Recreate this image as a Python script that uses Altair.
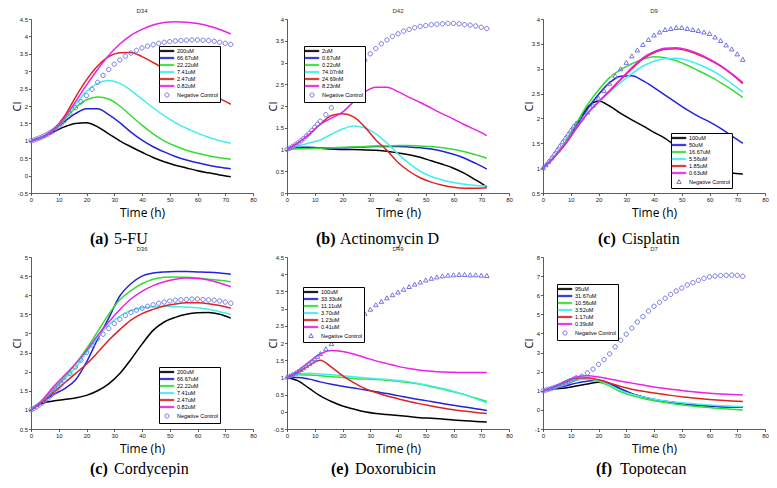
import altair as alt
import pandas as pd

# ---------------- data ----------------
TIME = [0, 4, 8, 12, 16, 20, 24, 28, 32, 36, 40, 44, 48, 52, 56, 60, 64, 68, 72]
NC_TIME = [0, 1, 2, 3, 4, 5, 6, 7, 8, 9, 10, 11, 12,
           14, 16, 18, 20, 22, 24, 26, 28, 30, 32, 34, 36, 38, 40, 42, 44,
           46, 48, 50, 52, 54, 56, 58, 60, 62, 64, 66, 68, 70, 72]
X_TICKS = [0, 10, 20, 30, 40, 50, 60, 70, 80]
LINE_COLORS = ["#000000", "#2222dd", "#33dd33", "#44eeee", "#e02222", "#e822e8"]
NC_COLOR = "#7272ea"

# (a) 5-FU
A_PLATE, A_TAG, A_DRUG = "D34", "(a)", "5-FU"
A_DOSES = ["200uM", "66.67uM", "22.22uM", "7.41uM", "2.47uM", "0.82uM"]
A_CI = [
    [1.0, 1.1, 1.25, 1.4, 1.5, 1.52, 1.4, 1.2, 1.0, 0.83, 0.67, 0.52, 0.4, 0.3, 0.22, 0.14, 0.08, 0.02, -0.03],
    [1.0, 1.1, 1.3, 1.55, 1.78, 1.92, 1.92, 1.75, 1.52, 1.25, 1.02, 0.83, 0.68, 0.55, 0.45, 0.37, 0.3, 0.24, 0.2],
    [1.0, 1.1, 1.3, 1.6, 1.95, 2.18, 2.26, 2.2, 2.0, 1.72, 1.45, 1.2, 1.0, 0.85, 0.73, 0.64, 0.57, 0.51, 0.47],
    [1.0, 1.1, 1.3, 1.65, 2.05, 2.42, 2.65, 2.73, 2.65, 2.45, 2.2, 1.95, 1.72, 1.52, 1.36, 1.22, 1.1, 1.0, 0.93],
    [1.0, 1.1, 1.32, 1.7, 2.25, 2.75, 3.15, 3.42, 3.53, 3.54, 3.42, 3.25, 3.07, 2.9, 2.75, 2.55, 2.38, 2.21, 2.05],
    [1.0, 1.1, 1.3, 1.65, 2.12, 2.6, 3.05, 3.45, 3.78, 4.03, 4.2, 4.33, 4.4, 4.42, 4.41, 4.37, 4.3, 4.2, 4.07],
]
A_NC = [1.0, 1.02, 1.05, 1.08, 1.11, 1.15, 1.19, 1.24, 1.29, 1.35, 1.42, 1.5, 1.58,
        1.78, 1.95, 2.12, 2.3, 2.48, 2.68, 2.88, 3.05, 3.2, 3.32, 3.43, 3.52, 3.6, 3.67, 3.72, 3.76,
        3.8, 3.83, 3.85, 3.87, 3.88, 3.89, 3.9, 3.9, 3.89, 3.88, 3.86, 3.83, 3.8, 3.77]
A_YTICKS = [-0.5, 0, 0.5, 1, 1.5, 2, 2.5, 3, 3.5, 4, 4.5]

# (b) Actinomycin D
B_PLATE, B_TAG, B_DRUG = "D42", "(b)", "Actinomycin D"
B_DOSES = ["2uM", "0.67uM", "0.22uM", "74.07nM", "24.69nM", "8.23nM"]
B_CI = [
    [1.0, 1.04, 1.04, 1.03, 1.01, 1.0, 1.0, 0.99, 0.98, 0.96, 0.92, 0.88, 0.82, 0.74, 0.66, 0.57, 0.45, 0.3, 0.14],
    [1.0, 1.05, 1.05, 1.04, 1.04, 1.04, 1.05, 1.06, 1.07, 1.07, 1.07, 1.06, 1.04, 1.01, 0.96, 0.89, 0.8, 0.68, 0.55],
    [1.0, 1.02, 1.02, 1.03, 1.04, 1.05, 1.06, 1.07, 1.08, 1.08, 1.09, 1.09, 1.08, 1.07, 1.04, 1.0, 0.95, 0.88, 0.8],
    [1.0, 1.08, 1.15, 1.22, 1.35, 1.47, 1.54, 1.5, 1.36, 1.15, 0.9, 0.68, 0.5, 0.38, 0.3, 0.24, 0.2, 0.17, 0.16],
    [1.0, 1.15, 1.35, 1.58, 1.78, 1.82, 1.75, 1.52, 1.22, 0.98, 0.7, 0.5, 0.35, 0.25, 0.18, 0.13, 0.11, 0.11, 0.12],
    [1.0, 1.15, 1.35, 1.58, 1.72, 1.86, 2.1, 2.32, 2.43, 2.43, 2.33, 2.2, 2.08, 1.95, 1.82, 1.7, 1.57, 1.45, 1.32],
]
B_NC = [1.0, 1.03, 1.07, 1.11, 1.15, 1.2, 1.25, 1.31, 1.37, 1.44, 1.51, 1.58, 1.65,
        1.8, 1.96, 2.13, 2.3, 2.5, 2.7, 2.88, 3.05, 3.2, 3.32, 3.43, 3.52, 3.6, 3.66, 3.72, 3.76,
        3.8, 3.83, 3.85, 3.87, 3.88, 3.89, 3.9, 3.9, 3.89, 3.87, 3.86, 3.84, 3.81, 3.78]
B_YTICKS = [0, 0.5, 1, 1.5, 2, 2.5, 3, 3.5, 4]

# (c) Cisplatin
C_PLATE, C_TAG, C_DRUG = "D9", "(c)", "Cisplatin"
C_DOSES = ["100uM", "50uM", "16.67uM", "5.56uM", "1.85uM", "0.63uM"]
C_CI = [
    [1.0, 1.22, 1.5, 1.88, 2.22, 2.35, 2.25, 2.1, 1.97, 1.85, 1.72, 1.6, 1.44, 1.29, 1.15, 1.03, 0.95, 0.9, 0.88],
    [1.0, 1.22, 1.5, 1.85, 2.19, 2.48, 2.72, 2.85, 2.86, 2.76, 2.62, 2.47, 2.32, 2.17, 2.04, 1.93, 1.8, 1.65, 1.5],
    [1.0, 1.23, 1.52, 1.9, 2.27, 2.57, 2.82, 2.98, 3.1, 3.19, 3.24, 3.22, 3.16, 3.07, 2.96, 2.85, 2.72, 2.58, 2.42],
    [1.0, 1.22, 1.48, 1.8, 2.1, 2.33, 2.53, 2.72, 2.9, 3.05, 3.15, 3.2, 3.21, 3.17, 3.09, 2.99, 2.86, 2.7, 2.53],
    [1.0, 1.22, 1.48, 1.8, 2.1, 2.33, 2.55, 2.78, 3.0, 3.2, 3.32, 3.39, 3.4, 3.36, 3.28, 3.18, 3.05, 2.89, 2.7],
    [1.0, 1.22, 1.48, 1.8, 2.1, 2.33, 2.56, 2.79, 3.02, 3.22, 3.34, 3.41, 3.42, 3.38, 3.3, 3.19, 3.06, 2.9, 2.72],
]
C_NC = [1.0, 1.06, 1.13, 1.2, 1.28, 1.36, 1.44, 1.52, 1.6, 1.68, 1.76, 1.84, 1.9,
        2.0, 2.12, 2.26, 2.4, 2.55, 2.7, 2.85, 2.99, 3.12, 3.25, 3.37, 3.48, 3.58, 3.67, 3.73, 3.78,
        3.8, 3.82, 3.82, 3.8, 3.78, 3.76, 3.73, 3.7, 3.63, 3.56, 3.47, 3.39, 3.29, 3.18]
C_YTICKS = [0.5, 1, 1.5, 2, 2.5, 3, 3.5, 4]

# (c) Cordycepin
D_PLATE, D_TAG, D_DRUG = "D36", "(c)", "Cordycepin"
D_DOSES = ["200uM", "66.67uM", "22.22uM", "7.41uM", "2.47uM", "0.82uM"]
D_CI = [
    [1.0, 1.17, 1.23, 1.27, 1.31, 1.38, 1.5, 1.68, 1.95, 2.32, 2.72, 3.08, 3.3, 3.42, 3.5, 3.54, 3.55, 3.5, 3.4],
    [1.0, 1.2, 1.4, 1.55, 1.78, 2.25, 2.85, 3.4, 3.98, 4.3, 4.5, 4.58, 4.61, 4.62, 4.62, 4.61, 4.6, 4.58, 4.55],
    [1.0, 1.25, 1.55, 1.85, 2.2, 2.6, 3.05, 3.5, 3.88, 4.12, 4.3, 4.42, 4.47, 4.48, 4.47, 4.45, 4.42, 4.39, 4.35],
    [1.0, 1.22, 1.5, 1.8, 2.1, 2.5, 2.9, 3.22, 3.45, 3.6, 3.67, 3.7, 3.71, 3.7, 3.69, 3.67, 3.63, 3.57, 3.5],
    [1.0, 1.2, 1.45, 1.7, 1.95, 2.2, 2.5, 2.82, 3.1, 3.35, 3.52, 3.63, 3.72, 3.77, 3.8, 3.8, 3.78, 3.73, 3.66],
    [1.0, 1.25, 1.6, 1.9, 2.2, 2.55, 2.95, 3.3, 3.62, 3.9, 4.1, 4.25, 4.35, 4.42, 4.45, 4.44, 4.4, 4.32, 4.22],
]
D_NC = [1.0, 1.04, 1.08, 1.13, 1.18, 1.24, 1.3, 1.37, 1.44, 1.52, 1.6, 1.68, 1.76,
        1.95, 2.12, 2.3, 2.5, 2.7, 2.86, 2.98, 3.13, 3.26, 3.37, 3.47, 3.55, 3.61, 3.66, 3.71, 3.75,
        3.79, 3.82, 3.85, 3.87, 3.88, 3.89, 3.9, 3.9, 3.89, 3.88, 3.87, 3.85, 3.82, 3.79]
D_YTICKS = [0.5, 1, 1.5, 2, 2.5, 3, 3.5, 4, 4.5, 5]

# (e) Doxorubicin
E_PLATE, E_TAG, E_DRUG = "D49", "(e)", "Doxorubicin"
E_DOSES = ["100uM", "33.33uM", "11.11uM", "3.70uM", "1.23uM", "0.41uM"]
E_CI = [
    [1.0, 0.9, 0.68, 0.46, 0.3, 0.17, 0.08, 0.0, -0.05, -0.08, -0.11, -0.14, -0.17, -0.19, -0.21, -0.24, -0.26, -0.28, -0.3],
    [1.0, 1.0, 0.95, 0.87, 0.8, 0.74, 0.69, 0.64, 0.58, 0.53, 0.47, 0.41, 0.35, 0.3, 0.24, 0.19, 0.14, 0.09, 0.04],
    [1.0, 1.08, 1.07, 1.05, 1.02, 1.0, 0.97, 0.95, 0.94, 0.92, 0.89, 0.85, 0.8, 0.73, 0.66, 0.58, 0.5, 0.4, 0.3],
    [1.0, 1.1, 1.12, 1.1, 1.08, 1.05, 1.02, 0.99, 0.96, 0.94, 0.91, 0.87, 0.81, 0.75, 0.68, 0.6, 0.5, 0.38, 0.26],
    [1.0, 1.15, 1.35, 1.5, 1.3, 1.05, 0.85, 0.68, 0.56, 0.46, 0.38, 0.3, 0.23, 0.17, 0.11, 0.06, 0.02, -0.02, -0.05],
    [1.0, 1.2, 1.45, 1.68, 1.78, 1.75, 1.68, 1.58, 1.48, 1.4, 1.32, 1.26, 1.21, 1.18, 1.16, 1.15, 1.14, 1.14, 1.14],
]
E_NC = [1.0, 1.04, 1.08, 1.12, 1.17, 1.22, 1.27, 1.33, 1.39, 1.46, 1.53, 1.6, 1.68,
        1.82, 1.97, 2.14, 2.3, 2.45, 2.6, 2.73, 2.85, 2.97, 3.1, 3.2, 3.3, 3.39, 3.47, 3.55, 3.63,
        3.7, 3.76, 3.82, 3.87, 3.91, 3.94, 3.96, 3.97, 3.98, 3.98, 3.97, 3.97, 3.96, 3.95]
E_YTICKS = [-0.5, 0, 0.5, 1, 1.5, 2, 2.5, 3, 3.5, 4, 4.5]

# (f) Topotecan
F_PLATE, F_TAG, F_DRUG = "D7", "(f)", "Topotecan"
F_DOSES = ["95uM", "31.67uM", "10.56uM", "3.52uM", "1.17uM", "0.39uM"]
F_CI = [
    [1.0, 1.1, 1.15, 1.25, 1.35, 1.45, 1.35, 1.1, 0.85, 0.68, 0.55, 0.45, 0.37, 0.3, 0.25, 0.2, 0.17, 0.15, 0.14],
    [1.0, 1.15, 1.25, 1.4, 1.5, 1.55, 1.4, 1.1, 0.85, 0.68, 0.55, 0.45, 0.37, 0.3, 0.25, 0.21, 0.18, 0.16, 0.15],
    [1.0, 1.15, 1.35, 1.55, 1.62, 1.5, 1.25, 0.95, 0.75, 0.6, 0.48, 0.38, 0.3, 0.23, 0.17, 0.12, 0.07, 0.03, 0.0],
    [1.0, 1.15, 1.35, 1.58, 1.62, 1.55, 1.3, 1.02, 0.82, 0.68, 0.56, 0.47, 0.4, 0.35, 0.3, 0.26, 0.22, 0.19, 0.17],
    [1.0, 1.2, 1.45, 1.65, 1.68, 1.58, 1.4, 1.22, 1.08, 0.97, 0.88, 0.8, 0.72, 0.66, 0.6, 0.55, 0.51, 0.47, 0.44],
    [1.0, 1.2, 1.5, 1.72, 1.78, 1.72, 1.62, 1.5, 1.4, 1.3, 1.2, 1.12, 1.05, 0.98, 0.92, 0.87, 0.83, 0.8, 0.78],
]
F_NC = [1.0, 1.04, 1.08, 1.12, 1.17, 1.22, 1.27, 1.33, 1.39, 1.46, 1.53, 1.6, 1.68,
        1.76, 1.93, 2.13, 2.38, 2.63, 2.93, 3.3, 3.64, 3.96, 4.28, 4.6, 4.88, 5.17, 5.42, 5.63, 5.84,
        6.04, 6.22, 6.37, 6.54, 6.66, 6.78, 6.88, 6.96, 7.0, 7.03, 7.04, 7.05, 7.04, 6.99]
F_YTICKS = [-1, 0, 1, 2, 3, 4, 5, 6, 7, 8]

NC_LABELS = ["Negative Control", "Negative Control", "Negative Control",
             "Negative Control", "Negative Control", "Negative Control"]
NC_MARKERS = ["circle", "circle", "triangle", "circle", "triangle", "circle"]

# ---------------- layout / style ----------------
W = 222
HEIGHTS = [174, 174, 174, 172, 172, 172]
CAPTION_DY = [46, 46, 46, 40, 40, 40]
LEGEND_POS = [(128, 27), (17, 27), (128, 114), (128, 110), (16, 30), (14, 27)]
CAPTION_X = [59, 29, 55, 59, 44, 53]

LINE_PATH = "M-2.8,-0.25L2.8,-0.25L2.8,0.25L-2.8,0.25Z"
CIRCLE_PATH = "M0.85,0A0.85,0.85,0,1,1,-0.85,0A0.85,0.85,0,1,1,0.85,0Z"
TRIANGLE_PATH = "M0,-0.95L0.9,0.62L-0.9,0.62Z"

PANELS = [
    (A_PLATE, A_TAG, A_DRUG, A_DOSES, A_CI, A_NC, A_YTICKS),
    (B_PLATE, B_TAG, B_DRUG, B_DOSES, B_CI, B_NC, B_YTICKS),
    (C_PLATE, C_TAG, C_DRUG, C_DOSES, C_CI, C_NC, C_YTICKS),
    (D_PLATE, D_TAG, D_DRUG, D_DOSES, D_CI, D_NC, D_YTICKS),
    (E_PLATE, E_TAG, E_DRUG, E_DOSES, E_CI, E_NC, E_YTICKS),
    (F_PLATE, F_TAG, F_DRUG, F_DOSES, F_CI, F_NC, F_YTICKS),
]


def make_panel(i):
    plate, tag, drug, doses, ci, nc, yticks = PANELS[i]
    h = HEIGHTS[i]
    nc_label = NC_LABELS[i]
    series = doses + [nc_label]

    rows = []
    for dose, vals in zip(doses, ci):
        for t, v in zip(TIME, vals):
            rows.append({"t": t, "ci": v, "series": dose})
    df_lines = pd.DataFrame(rows)
    df_nc = pd.DataFrame({"t": NC_TIME, "ci": nc, "series": [nc_label] * len(NC_TIME)})

    marker = CIRCLE_PATH if NC_MARKERS[i] == "circle" else TRIANGLE_PATH
    cscale = alt.Scale(domain=series, range=LINE_COLORS + [NC_COLOR])
    sscale = alt.Scale(domain=series, range=[LINE_PATH] * 6 + [marker])
    line_scale = alt.Scale(domain=doses, range=LINE_COLORS)

    lx, ly = LEGEND_POS[i]
    leg = alt.Legend(
        orient="none", legendX=lx, legendY=ly, title=None,
        fillColor="white", strokeColor="black", padding=2, rowPadding=0,
        cornerRadius=0, labelFont="Liberation Sans", labelFontSize=5.5,
        labelColor="black", labelOffset=7, labelLimit=120,
        symbolSize=24, symbolStrokeWidth=1, symbolOffset=3,
    )

    def xaxis():
        return alt.Axis(values=X_TICKS, labelExpr="'' + datum.value", title="Time (h)",
                        labelOverlap=False, labelFlush=False, labelSeparation=0,
                        titleX=W / 2, titleY=19, titleBaseline="middle", titleAlign="center",
                        titleFont="Open Sans", titleFontSize=12, titleFontWeight="normal",
                        titleColor="black")

    def yaxis():
        return alt.Axis(values=yticks, labelExpr="'' + datum.value", title="CI",
                        labelOverlap=False, labelFlush=False, labelSeparation=0,
                        tickCount=len(yticks),
                        titleX=-9, titleY=h / 2, titleBaseline="bottom", titleAlign="center",
                        titleFont="Open Sans", titleFontSize=11, titleFontWeight="normal",
                        titleColor="black")

    def xenc():
        return alt.X("t:Q", scale=alt.Scale(domain=[0, 80], nice=False, zero=False), axis=xaxis())

    def yenc():
        return alt.Y("ci:Q", scale=alt.Scale(domain=[yticks[0], yticks[-1]], nice=False, zero=False),
                     axis=yaxis())

    lines = alt.Chart(df_lines).mark_line(strokeWidth=1.5, interpolate="monotone").encode(
        x=xenc(), y=yenc(), stroke=alt.Stroke("series:N", scale=line_scale, legend=None)
    )
    points = alt.Chart(df_nc).mark_point(filled=False, size=26, strokeWidth=1, opacity=1).encode(
        x=xenc(), y=yenc(),
        color=alt.Color("series:N", scale=cscale, legend=leg),
        shape=alt.Shape("series:N", scale=sscale, legend=leg),
    )

    cx = CAPTION_X[i]
    cy = h + CAPTION_DY[i]
    cap_tag = alt.Chart(pd.DataFrame({"txt": [tag]})).mark_text(
        font="Liberation Serif", fontSize=16, fontWeight="bold", align="left",
        baseline="middle", color="black"
    ).encode(text="txt:N", x=alt.value(cx), y=alt.value(cy))
    cap_name = alt.Chart(pd.DataFrame({"txt": [drug]})).mark_text(
        font="Liberation Serif", fontSize=16, align="left", baseline="middle", color="black"
    ).encode(text="txt:N", x=alt.value(cx + 24), y=alt.value(cy))

    return alt.layer(lines, points, cap_tag, cap_name).properties(
        width=W, height=h,
        title=alt.Title(plate, fontSize=6, offset=2, font="Liberation Sans",
                        fontWeight="normal", color="#333", anchor="middle"),
    )


panels = [make_panel(i) for i in range(6)]

chart = alt.concat(
    *panels, columns=3, spacing={"row": 64, "column": 34}, bounds="flush"
).resolve_scale(
    color="independent", shape="independent", stroke="independent"
).properties(
    padding={"left": 3, "top": 0, "right": 0, "bottom": 0}
).configure_view(
    strokeWidth=0
).configure_axis(
    grid=False, domainColor="#333", domainWidth=0.8, tickColor="#333", tickWidth=0.8,
    tickSize=2.5, labelFont="Liberation Sans", labelFontSize=6, labelColor="#222",
    labelPadding=1, titleFontWeight="normal", labelOverlap=False,
).configure_axisY(
    labelOverlap=False
)

chart.save("out.html", embed_options={"renderer": "svg", "actions": False})
